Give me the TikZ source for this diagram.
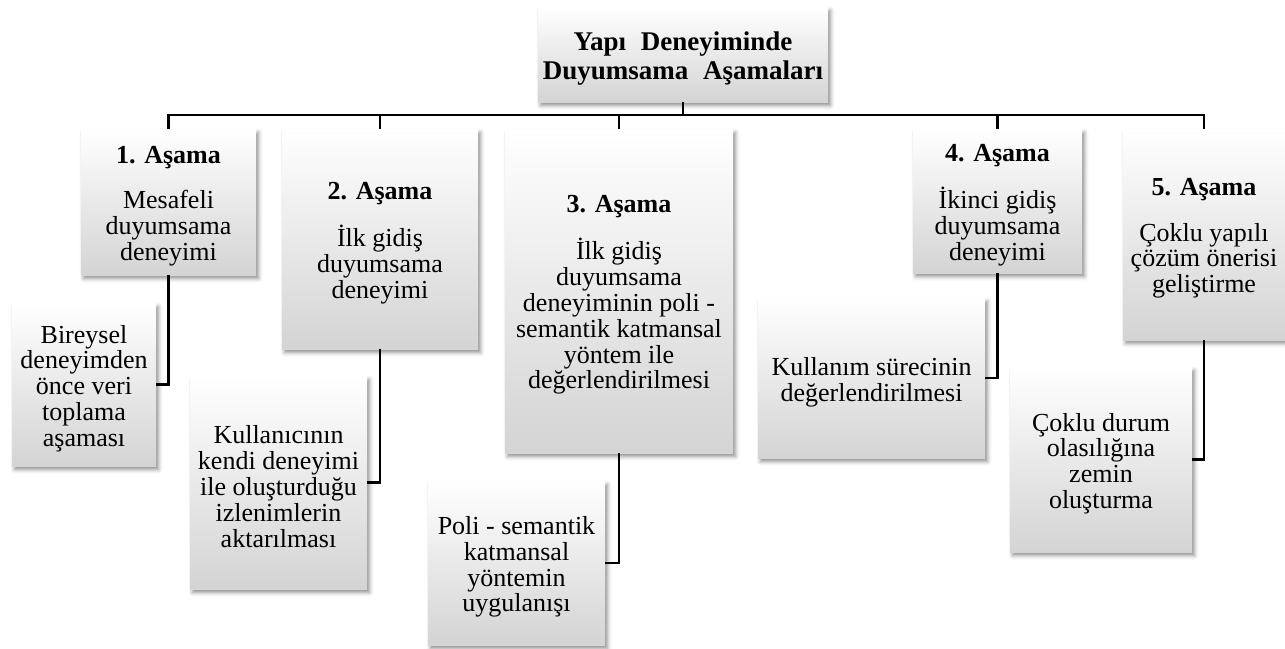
\documentclass[tikz,border=0pt]{standalone}
\usepackage{fontspec}
\setmainfont{Liberation Serif}
\usetikzlibrary{shadows.blur}
\tikzset{
  box/.style={rectangle, inner sep=0pt,
    top color=white, middle color=white, bottom color=black!17,
    blur shadow={shadow xshift=2.5pt, shadow yshift=-3.5pt, shadow blur radius=4pt, shadow opacity=45}},
  txt/.style={inner sep=0pt, align=center, yshift=-4pt, font=\fontsize{26}{25.8}\selectfont},
  ttl/.style={txt, font=\fontsize{27}{29}\bfseries\selectfont},
  link/.style={line width=2.3pt, draw=black}
}
\newcommand{\hd}[1]{{\bfseries #1}\\[19.5pt]}
\begin{document}
\begin{tikzpicture}[x=1pt,y=-1pt]
\useasboundingbox (0,0) rectangle (1285,648);
\coordinate (bus) at (0,115);
\node[box, minimum width=290, minimum height=95, label={[ttl]center:{Yapı\hspace{0.3em} Deneyiminde\\Duyumsama\hspace{0.3em} Aşamaları}}] (top) at (683,54.5) {};
\node[box, minimum width=175, minimum height=146, label={[txt]center:{\hd{1. Aşama}Mesafeli\\duyumsama\\deneyimi}}] (s1) at (168.5,202) {};
\node[box, minimum width=196, minimum height=220, label={[txt]center:{\hd{2. Aşama}İlk gidiş\\duyumsama\\deneyimi}}] (s2) at (380,239) {};
\node[box, minimum width=228, minimum height=324, label={[txt]center:{\hd{3. Aşama}İlk gidiş\\duyumsama\\deneyiminin poli -\\semantik katmansal\\yöntem ile\\değerlendirilmesi}}] (s3) at (619,291) {};
\node[box, minimum width=169, minimum height=144, label={[txt]center:{\hd{4. Aşama}İkinci gidiş\\duyumsama\\deneyimi}}] (s4) at (997.5,201) {};
\node[box, minimum width=162, minimum height=211, label={[txt]center:{\hd{5. Aşama}Çoklu yapılı\\çözüm önerisi\\geliştirme}}] (s5) at (1204,234.5) {};
\node[box, minimum width=144, minimum height=163, label={[txt]center:{Bireysel\\deneyimden\\önce veri\\toplama\\aşaması}}] (d1) at (84,384.5) {};
\node[box, minimum width=177, minimum height=213, label={[txt]center:{Kullanıcının\\kendi deneyimi\\ile oluşturduğu\\izlenimlerin\\aktarılması}}] (d2) at (278.5,482.5) {};
\node[box, minimum width=177, minimum height=164, label={[txt]center:{Poli - semantik\\katmansal\\yöntemin\\uygulanışı}}] (d3) at (516.5,563) {};
\node[box, minimum width=227, minimum height=160, label={[txt]center:{Kullanım sürecinin\\değerlendirilmesi}}] (d4) at (871.5,378) {};
\node[box, minimum width=182, minimum height=185, label={[txt]center:{Çoklu durum\\olasılığına\\zemin\\oluşturma}}] (d5) at (1101,459.5) {};
\draw[link] (top.south) -- (top.south |- bus);
\draw[link] (s1.north) -- (s1.north |- bus) -- (s5.north |- bus) -- (s5.north);
\draw[link] (s2.north) -- (s2.north |- bus);
\draw[link] (s3.north) -- (s3.north |- bus);
\draw[link] (s4.north) -- (s4.north |- bus);
\draw[link] (s1.south) |- (d1.east);
\draw[link] (s2.south) |- (d2.east);
\draw[link] (s3.south) |- (d3.east);
\draw[link] (s4.south) |- (d4.east);
\draw[link] (s5.south) |- (d5.east);
\end{tikzpicture}
\end{document}
